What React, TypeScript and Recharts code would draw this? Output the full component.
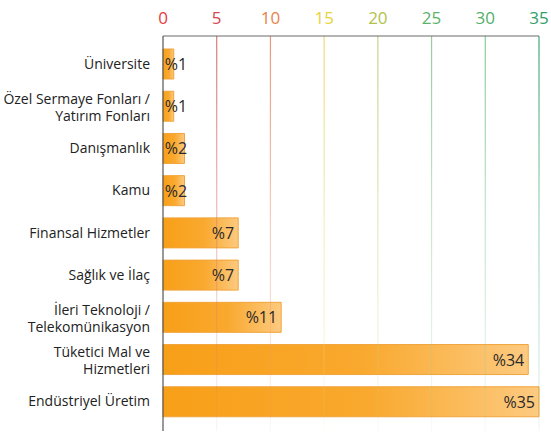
import React from "react";
import { BarChart, Bar, XAxis, YAxis, ReferenceLine, LabelList } from "recharts";

const categories: string[] = [
  "Üniversite",
  "Özel Sermaye Fonları /\nYatırım Fonları",
  "Danışmanlık",
  "Kamu",
  "Finansal Hizmetler",
  "Sağlık ve İlaç",
  "İleri Teknoloji /\nTelekomünikasyon",
  "Tüketici Mal ve\nHizmetleri",
  "Endüstriyel Üretim",
];
const shares: number[] = [1, 1, 2, 2, 7, 7, 11, 34, 35];
const xTicks: number[] = [0, 5, 10, 15, 20, 25, 30, 35];
const tickColors: string[] = ["#e63a3e", "#d6464f", "#e9824b", "#e9d33c", "#b1c24b", "#5db26b", "#52af6a", "#2f9e6a"];
const gridColors: string[] = ["#e07070", "#d97878", "#e8987a", "#ecdb7a", "#c3d484", "#94cc9c", "#86c998", "#3fa874"];

const data = categories.map((name, i) => ({ name, value: shares[i] }));

const FONT = "'Open Sans', sans-serif";

const XTick = (props: any) => {
  const { x, payload, index } = props;
  const idx = xTicks.indexOf(payload.value);
  return (
    <text x={x} y={24} textAnchor="middle" fontFamily={FONT} fontSize={17} fill={tickColors[idx >= 0 ? idx : index]}>
      {payload.value}
    </text>
  );
};

const YTick = (props: any) => {
  const { y, payload } = props;
  const lines = String(payload.value).split("\n");
  const first = lines.length === 1 ? y + 4.5 : y - 2.75;
  return (
    <text x={150} y={first} textAnchor="end" fontFamily={FONT} fontSize={14} fill="#222">
      {lines.map((l, i) => (
        <tspan key={i} x={150} y={first + i * 17}>
          {l}
        </tspan>
      ))}
    </text>
  );
};

const BarLabel = (props: any) => {
  const { x, y, width, height, value } = props;
  const txt = "%" + value;
  const est = 13 + 9.2 * String(value).length;
  const endX = Math.max(x + width - 4, x + 2 + est);
  return (
    <text x={endX} y={y + height / 2 + 6} textAnchor="end" fontFamily={FONT} fontSize={16} fill="#2a2a2a">
      {txt}
    </text>
  );
};

export default function App() {
  return (
    <div style={{ position: "absolute", left: 0, top: 0, background: "#fff" }}>
      <BarChart
        width={551}
        height={435}
        data={data}
        layout="vertical"
        margin={{ top: 0, right: 12, bottom: 4, left: 0 }}
        barSize={30}
      >
        <defs>
          <linearGradient id="barGrad" x1="0" y1="0" x2="1" y2="0">
            <stop offset="0" stopColor="#f89f18" />
            <stop offset="0.55" stopColor="#f9a92f" />
            <stop offset="1" stopColor="#fdca80" />
          </linearGradient>
          {gridColors.map((c, i) => (
            <linearGradient key={i} id={"gl" + i} gradientUnits="userSpaceOnUse" x1="0" y1="36" x2="0" y2="431">
              <stop offset="0" stopColor={c} stopOpacity={1} />
              <stop offset="0.45" stopColor={c} stopOpacity={0.5} />
              <stop offset="1" stopColor={c} stopOpacity={0.08} />
            </linearGradient>
          ))}
        </defs>
        <XAxis
          type="number"
          orientation="top"
          domain={[0, 35]}
          ticks={xTicks}
          interval={0}
          height={36}
          axisLine={{ stroke: "#6a6a6a", strokeWidth: 1.2 }}
          tickLine={false}
          tick={<XTick />}
        />
        <YAxis
          type="category"
          dataKey="name"
          width={163}
          padding={{ top: 7, bottom: 8 }}
          axisLine={{ stroke: "#555", strokeWidth: 1.2 }}
          tickLine={false}
          interval={0}
          tick={<YTick />}
        />
        {xTicks.slice(1).map((v, i) => (
          <ReferenceLine key={v} x={v} stroke={`url(#gl${i + 1})`} strokeWidth={1.2} />
        ))}
        <Bar dataKey="value" fill="url(#barGrad)" stroke="#f1a43c" strokeWidth={1} isAnimationActive={false}>
          <LabelList dataKey="value" content={<BarLabel />} />
        </Bar>
      </BarChart>
    </div>
  );
}
